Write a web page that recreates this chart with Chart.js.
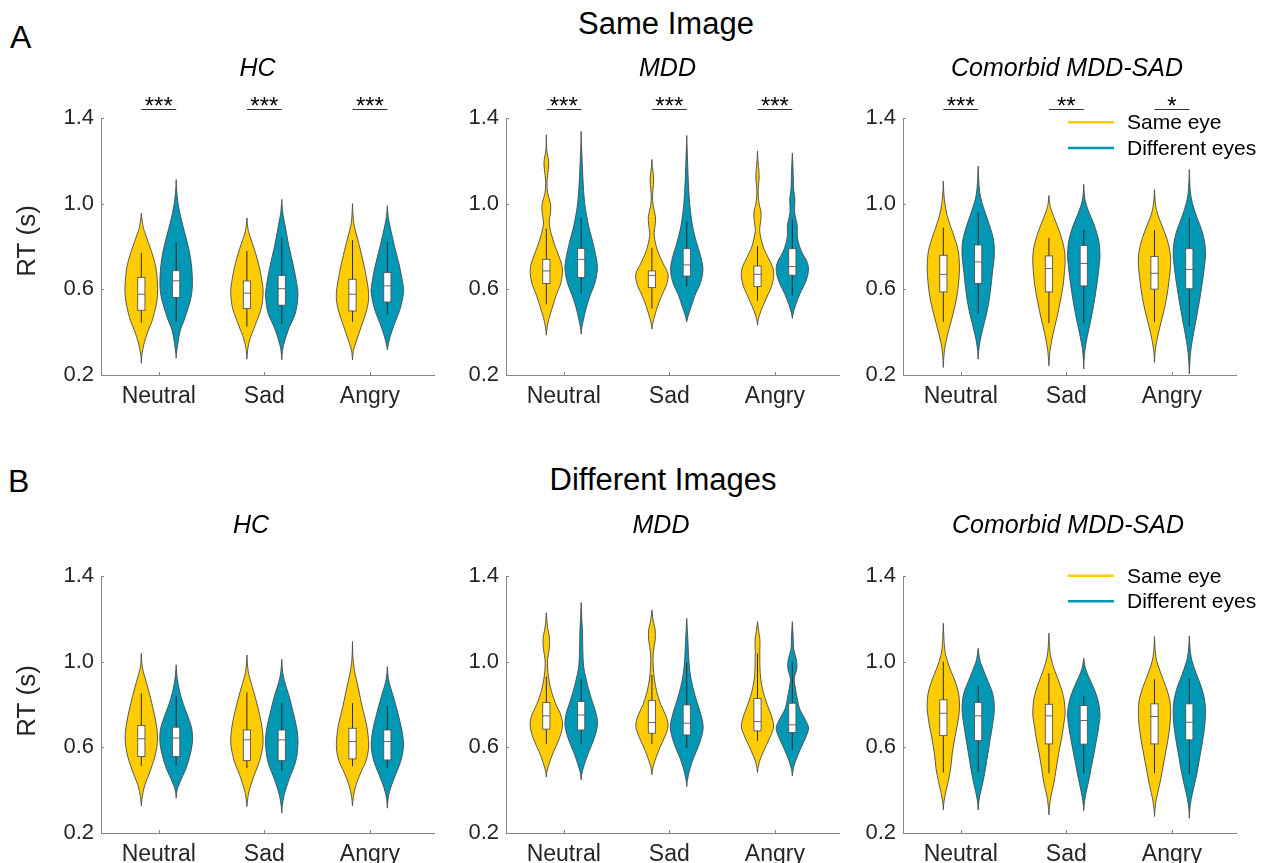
<!DOCTYPE html>
<html>
<head>
<meta charset="utf-8">
<script src="https://cdn.jsdelivr.net/npm/chart.js@4.4.1/dist/chart.umd.min.js"></script>
<style>
  html, body { margin: 0; padding: 0; background: #fff; overflow: hidden; }
  #page { position: relative; width: 1266px; height: 863px; overflow: hidden;
          font-family: "Liberation Sans", Arial, Helvetica, sans-serif; color: #000; }
  .lab { position: absolute; line-height: 1; white-space: nowrap; }
  .mid { transform: translateX(-50%); }
  canvas { position: absolute; }
</style>
</head>
<body>
<div id="page">
  <div class="lab" style="left:10px;top:21px;font-size:32px">A</div>
  <div class="lab" style="left:8px;top:465px;font-size:32px">B</div>
  <div class="lab mid" style="left:666px;top:8px;font-size:31px">Same Image</div>
  <div class="lab mid" style="left:663px;top:464px;font-size:31px">Different Images</div>
</div>
<script>
const categories = ['Neutral', 'Sad', 'Angry'];
const groupTitles = ['HC', 'MDD', 'Comorbid MDD-SAD'];
const seriesNames = ['Same eye', 'Different eyes'];
const yTickValues = [0.2, 0.6, 1.0, 1.4];
const starsSameImage = [['***', '***', '***'], ['***', '***', '***'], ['***', '**', '*']];

// box stats: [lower whisker, Q1, median, Q3, upper whisker] for Neutral, Sad, Angry
const boxA_HC_same = [[0.444, 0.502, 0.577, 0.656, 0.770], [0.426, 0.510, 0.582, 0.639, 0.779], [0.448, 0.499, 0.577, 0.647, 0.830]];
const boxA_HC_diff = [[0.449, 0.562, 0.640, 0.687, 0.820], [0.437, 0.526, 0.603, 0.665, 0.841], [0.484, 0.541, 0.616, 0.678, 0.822]];
const boxA_MDD_same = [[0.530, 0.627, 0.686, 0.740, 0.883], [0.510, 0.608, 0.665, 0.686, 0.794], [0.546, 0.613, 0.670, 0.709, 0.802]];
const boxA_MDD_diff = [[0.582, 0.655, 0.740, 0.791, 0.934], [0.613, 0.662, 0.714, 0.790, 0.918], [0.572, 0.666, 0.706, 0.790, 0.926]];
const boxA_COM_same = [[0.448, 0.588, 0.670, 0.759, 0.888], [0.442, 0.588, 0.697, 0.756, 0.841], [0.448, 0.601, 0.675, 0.753, 0.877]];
const boxA_COM_diff = [[0.487, 0.628, 0.728, 0.807, 0.960], [0.442, 0.616, 0.721, 0.805, 0.877], [0.426, 0.603, 0.693, 0.790, 0.934]];
const boxB_HC_same = [[0.514, 0.557, 0.640, 0.702, 0.853], [0.503, 0.538, 0.635, 0.681, 0.856], [0.511, 0.546, 0.627, 0.689, 0.806]];
const boxB_HC_diff = [[0.514, 0.557, 0.643, 0.694, 0.840], [0.492, 0.538, 0.635, 0.681, 0.809], [0.503, 0.541, 0.627, 0.681, 0.793]];
const boxB_MDD_same = [[0.616, 0.685, 0.747, 0.809, 0.930], [0.615, 0.666, 0.716, 0.818, 0.938], [0.630, 0.677, 0.720, 0.828, 1.039]];
const boxB_MDD_diff = [[0.616, 0.681, 0.751, 0.814, 0.918], [0.596, 0.658, 0.713, 0.798, 0.996], [0.588, 0.669, 0.705, 0.806, 1.000]];
const boxB_COM_same = [[0.482, 0.655, 0.759, 0.822, 1.000], [0.479, 0.616, 0.747, 0.801, 0.946], [0.479, 0.616, 0.744, 0.803, 0.918]];
const boxB_COM_diff = [[0.482, 0.632, 0.747, 0.809, 0.887], [0.479, 0.615, 0.725, 0.795, 0.840], [0.472, 0.635, 0.717, 0.803, 0.923]];

// violin outlines: [RT, relative density] from bottom tip to top tip
const kdeA_HC_same = [
  [[0.255, 0], [0.29, 0.03], [0.35, 0.18], [0.41, 0.44], [0.47, 0.74], [0.57, 1.0], [0.675, 0.95], [0.75, 0.74], [0.85, 0.29], [0.89, 0.12], [0.94, 0.02], [0.956, 0]],
  [[0.274, 0], [0.32, 0.05], [0.37, 0.2], [0.43, 0.5], [0.51, 0.88], [0.58, 1.0], [0.63, 0.95], [0.71, 0.75], [0.79, 0.45], [0.87, 0.1], [0.934, 0]],
  [[0.27, 0], [0.31, 0.05], [0.35, 0.2], [0.43, 0.56], [0.51, 0.9], [0.58, 1.0], [0.68, 0.8], [0.78, 0.5], [0.84, 0.3], [0.9, 0.1], [0.95, 0.03], [1.0, 0]]
];
const kdeA_HC_diff = [
  [[0.278, 0], [0.30, 0.02], [0.35, 0.11], [0.41, 0.26], [0.47, 0.56], [0.57, 0.94], [0.66, 1.0], [0.75, 0.88], [0.83, 0.65], [0.91, 0.37], [0.99, 0.14], [1.065, 0.03], [1.112, 0]],
  [[0.271, 0], [0.31, 0.04], [0.35, 0.15], [0.42, 0.45], [0.49, 0.85], [0.57, 1.0], [0.63, 0.92], [0.71, 0.72], [0.8, 0.45], [0.9, 0.2], [0.96, 0.06], [1.02, 0]],
  [[0.318, 0], [0.34, 0.05], [0.38, 0.18], [0.43, 0.4], [0.51, 0.8], [0.585, 1.0], [0.63, 0.95], [0.71, 0.75], [0.8, 0.45], [0.9, 0.15], [0.95, 0.04], [0.99, 0]]
];
const kdeA_MDD_same = [
  [[0.386, 0], [0.41, 0.03], [0.45, 0.12], [0.51, 0.35], [0.57, 0.6], [0.63, 0.9], [0.69, 1.0], [0.74, 0.85], [0.8, 0.55], [0.86, 0.3], [0.91, 0.18], [0.96, 0.26], [1.0, 0.26], [1.05, 0.08], [1.1, 0.04], [1.16, 0.12], [1.2, 0.14], [1.25, 0.03], [1.322, 0]],
  [[0.414, 0], [0.44, 0.05], [0.47, 0.15], [0.52, 0.35], [0.57, 0.6], [0.62, 0.9], [0.67, 1.0], [0.72, 0.7], [0.78, 0.35], [0.85, 0.14], [0.9, 0.2], [0.94, 0.22], [0.99, 0.08], [1.04, 0.04], [1.09, 0.1], [1.13, 0.1], [1.17, 0.03], [1.206, 0]],
  [[0.433, 0], [0.46, 0.05], [0.5, 0.22], [0.55, 0.5], [0.61, 0.85], [0.66, 1.0], [0.7, 0.95], [0.75, 0.65], [0.8, 0.35], [0.87, 0.14], [0.92, 0.2], [0.96, 0.22], [1.0, 0.1], [1.06, 0.04], [1.12, 0.1], [1.16, 0.08], [1.2, 0.03], [1.245, 0]]
];
const kdeA_MDD_diff = [
  [[0.391, 0], [0.42, 0.04], [0.45, 0.12], [0.51, 0.3], [0.57, 0.55], [0.63, 0.85], [0.69, 1.0], [0.74, 0.95], [0.82, 0.72], [0.9, 0.45], [1.0, 0.22], [1.1, 0.12], [1.2, 0.06], [1.27, 0.02], [1.338, 0]],
  [[0.448, 0], [0.48, 0.1], [0.52, 0.28], [0.57, 0.5], [0.63, 0.85], [0.69, 1.0], [0.75, 0.88], [0.82, 0.6], [0.9, 0.35], [1.0, 0.18], [1.1, 0.1], [1.2, 0.05], [1.318, 0]],
  [[0.464, 0], [0.49, 0.06], [0.53, 0.22], [0.58, 0.48], [0.64, 0.85], [0.69, 1.0], [0.73, 0.9], [0.78, 0.55], [0.84, 0.32], [0.9, 0.3], [0.96, 0.14], [1.02, 0.16], [1.07, 0.08], [1.15, 0.05], [1.237, 0]]
];
const kdeA_COM_same = [
  [[0.235, 0], [0.28, 0.03], [0.33, 0.1], [0.4, 0.3], [0.47, 0.55], [0.55, 0.8], [0.62, 0.93], [0.7, 1.0], [0.78, 0.92], [0.85, 0.65], [0.9, 0.42], [0.95, 0.22], [1.0, 0.1], [1.05, 0.03], [1.105, 0]],
  [[0.243, 0], [0.28, 0.03], [0.33, 0.1], [0.4, 0.28], [0.47, 0.5], [0.55, 0.72], [0.62, 0.88], [0.7, 0.98], [0.75, 1.0], [0.8, 0.92], [0.86, 0.7], [0.92, 0.4], [0.97, 0.15], [1.0, 0.05], [1.038, 0]],
  [[0.259, 0], [0.3, 0.03], [0.35, 0.12], [0.42, 0.32], [0.49, 0.55], [0.56, 0.75], [0.64, 0.9], [0.72, 1.0], [0.78, 0.95], [0.84, 0.75], [0.9, 0.45], [0.95, 0.2], [1.0, 0.06], [1.066, 0]]
];
const kdeA_COM_diff = [
  [[0.274, 0], [0.31, 0.03], [0.36, 0.12], [0.42, 0.3], [0.48, 0.5], [0.55, 0.68], [0.62, 0.8], [0.69, 0.9], [0.76, 1.0], [0.83, 0.95], [0.9, 0.7], [0.97, 0.38], [1.03, 0.15], [1.09, 0.05], [1.175, 0]],
  [[0.228, 0], [0.27, 0.02], [0.32, 0.08], [0.38, 0.22], [0.45, 0.42], [0.52, 0.6], [0.59, 0.75], [0.66, 0.88], [0.73, 0.98], [0.77, 1.0], [0.83, 0.92], [0.9, 0.65], [0.96, 0.32], [1.01, 0.1], [1.05, 0.03], [1.09, 0]],
  [[0.205, 0], [0.24, 0.02], [0.3, 0.07], [0.36, 0.18], [0.43, 0.35], [0.5, 0.52], [0.57, 0.68], [0.64, 0.82], [0.71, 0.94], [0.76, 1.0], [0.82, 0.95], [0.88, 0.75], [0.94, 0.45], [1.0, 0.2], [1.06, 0.06], [1.16, 0]]
];
const kdeB_HC_same = [
  [[0.327, 0], [0.37, 0.06], [0.42, 0.2], [0.48, 0.5], [0.56, 0.85], [0.635, 1.0], [0.71, 0.92], [0.79, 0.7], [0.88, 0.4], [0.96, 0.1], [1.0, 0.03], [1.039, 0]],
  [[0.324, 0], [0.36, 0.05], [0.4, 0.15], [0.47, 0.45], [0.54, 0.8], [0.62, 1.0], [0.7, 0.92], [0.78, 0.7], [0.86, 0.42], [0.93, 0.15], [0.98, 0.04], [1.031, 0]],
  [[0.327, 0], [0.37, 0.06], [0.42, 0.2], [0.48, 0.5], [0.54, 0.85], [0.61, 1.0], [0.7, 0.88], [0.79, 0.6], [0.88, 0.35], [0.96, 0.12], [1.02, 0.03], [1.094, 0]]
];
const kdeB_HC_diff = [
  [[0.363, 0], [0.4, 0.06], [0.44, 0.25], [0.5, 0.6], [0.56, 0.85], [0.62, 1.0], [0.68, 0.98], [0.74, 0.75], [0.8, 0.45], [0.86, 0.22], [0.92, 0.07], [0.985, 0]],
  [[0.293, 0], [0.33, 0.04], [0.38, 0.16], [0.45, 0.45], [0.53, 0.85], [0.61, 1.0], [0.68, 0.95], [0.76, 0.72], [0.84, 0.45], [0.9, 0.2], [0.95, 0.06], [1.011, 0]],
  [[0.316, 0], [0.36, 0.05], [0.41, 0.2], [0.47, 0.5], [0.54, 0.85], [0.61, 1.0], [0.68, 0.9], [0.76, 0.65], [0.83, 0.4], [0.89, 0.16], [0.93, 0.05], [0.977, 0]]
];
const kdeB_MDD_same = [
  [[0.461, 0], [0.49, 0.05], [0.53, 0.2], [0.58, 0.45], [0.64, 0.8], [0.7, 1.0], [0.75, 0.9], [0.8, 0.6], [0.86, 0.32], [0.92, 0.15], [0.97, 0.08], [1.01, 0.08], [1.06, 0.18], [1.11, 0.2], [1.16, 0.08], [1.229, 0]],
  [[0.472, 0], [0.5, 0.05], [0.54, 0.2], [0.6, 0.5], [0.65, 0.8], [0.7, 1.0], [0.75, 0.85], [0.8, 0.55], [0.86, 0.3], [0.92, 0.15], [0.98, 0.08], [1.04, 0.08], [1.1, 0.2], [1.15, 0.2], [1.19, 0.08], [1.241, 0]],
  [[0.482, 0], [0.51, 0.05], [0.55, 0.2], [0.61, 0.55], [0.66, 0.85], [0.7, 1.0], [0.75, 0.85], [0.8, 0.6], [0.86, 0.35], [0.92, 0.2], [0.98, 0.15], [1.04, 0.14], [1.1, 0.15], [1.14, 0.08], [1.187, 0]]
];
const kdeB_MDD_diff = [
  [[0.448, 0], [0.48, 0.05], [0.52, 0.2], [0.58, 0.48], [0.64, 0.8], [0.7, 1.0], [0.75, 0.95], [0.8, 0.75], [0.86, 0.5], [0.92, 0.3], [0.98, 0.15], [1.06, 0.1], [1.14, 0.08], [1.2, 0.04], [1.276, 0]],
  [[0.417, 0], [0.45, 0.05], [0.5, 0.2], [0.55, 0.42], [0.61, 0.75], [0.67, 0.98], [0.71, 1.0], [0.76, 0.85], [0.82, 0.6], [0.88, 0.38], [0.95, 0.2], [1.02, 0.12], [1.1, 0.07], [1.202, 0]],
  [[0.467, 0], [0.5, 0.06], [0.54, 0.22], [0.6, 0.55], [0.65, 0.85], [0.69, 1.0], [0.73, 0.8], [0.78, 0.45], [0.83, 0.3], [0.88, 0.18], [0.92, 0.12], [0.97, 0.28], [1.01, 0.25], [1.06, 0.08], [1.12, 0.05], [1.187, 0]]
];
const kdeB_COM_same = [
  [[0.308, 0], [0.34, 0.03], [0.38, 0.12], [0.44, 0.3], [0.5, 0.45], [0.57, 0.55], [0.64, 0.7], [0.71, 0.88], [0.78, 1.0], [0.85, 0.95], [0.91, 0.72], [0.97, 0.4], [1.03, 0.15], [1.09, 0.05], [1.179, 0]],
  [[0.285, 0], [0.32, 0.03], [0.37, 0.12], [0.43, 0.3], [0.5, 0.45], [0.57, 0.6], [0.64, 0.78], [0.71, 0.92], [0.76, 1.0], [0.83, 0.92], [0.9, 0.65], [0.96, 0.35], [1.02, 0.12], [1.07, 0.04], [1.133, 0]],
  [[0.277, 0], [0.31, 0.03], [0.36, 0.12], [0.42, 0.3], [0.49, 0.48], [0.56, 0.65], [0.63, 0.82], [0.7, 0.95], [0.76, 1.0], [0.82, 0.95], [0.88, 0.72], [0.94, 0.42], [1.0, 0.15], [1.05, 0.05], [1.117, 0]]
];
const kdeB_COM_diff = [
  [[0.308, 0], [0.34, 0.03], [0.38, 0.12], [0.44, 0.3], [0.5, 0.45], [0.57, 0.6], [0.64, 0.75], [0.71, 0.9], [0.78, 1.0], [0.85, 0.9], [0.91, 0.6], [0.97, 0.28], [1.01, 0.1], [1.062, 0]],
  [[0.305, 0], [0.34, 0.04], [0.39, 0.15], [0.45, 0.32], [0.52, 0.5], [0.59, 0.68], [0.66, 0.85], [0.72, 0.97], [0.76, 1.0], [0.82, 0.88], [0.88, 0.6], [0.93, 0.3], [0.97, 0.1], [1.016, 0]],
  [[0.269, 0], [0.31, 0.03], [0.36, 0.12], [0.42, 0.3], [0.49, 0.5], [0.56, 0.66], [0.63, 0.82], [0.7, 0.95], [0.76, 1.0], [0.82, 0.95], [0.88, 0.75], [0.94, 0.45], [1.0, 0.18], [1.05, 0.06], [1.12, 0]]
];

// styles / layout
const FONT = '"Liberation Sans", Arial, Helvetica, sans-serif';
const TEXT = '#262626';
const AXIS = '#858585';
const OUTLINE = '#4a4a4a';
const seriesColors = ['#FFCC00', '#0098B5'];
const seriesOffsets = [-0.165, 0.165];
const VIOLIN_HALF = 0.153;   // in x units
const BOX_HALF = 3.6;        // px
const plotLefts = [101, 506, 903];
const plotTops = [118, 576];
const PLOT_W = 333, PLOT_H = 257;
const PAD_L = 100, PAD_T = 110, PAD_R = 30, PAD_B = 45;
const titleCenters = [[257.5, 667.5, 1067], [251, 661, 1068]];
const titleBaselines = [76, 533];
const yTitleCenters = [241, 701];
const legendDy = [4.3, -0.3];

Chart.defaults.font.family = FONT;

const panels = [
  { row: 0, col: 0, box: [boxA_HC_same, boxA_HC_diff], kde: [kdeA_HC_same, kdeA_HC_diff] },
  { row: 0, col: 1, box: [boxA_MDD_same, boxA_MDD_diff], kde: [kdeA_MDD_same, kdeA_MDD_diff] },
  { row: 0, col: 2, box: [boxA_COM_same, boxA_COM_diff], kde: [kdeA_COM_same, kdeA_COM_diff] },
  { row: 1, col: 0, box: [boxB_HC_same, boxB_HC_diff], kde: [kdeB_HC_same, kdeB_HC_diff] },
  { row: 1, col: 1, box: [boxB_MDD_same, boxB_MDD_diff], kde: [kdeB_MDD_same, kdeB_MDD_diff] },
  { row: 1, col: 2, box: [boxB_COM_same, boxB_COM_diff], kde: [kdeB_COM_same, kdeB_COM_diff] }
];

// catmull-rom through pixel points
function traceSmooth(ctx, pts) {
  for (let i = 0; i < pts.length - 1; i++) {
    const p0 = pts[i - 1] || pts[i], p1 = pts[i], p2 = pts[i + 1], p3 = pts[i + 2] || p2;
    ctx.bezierCurveTo(
      p1[0] + (p2[0] - p0[0]) / 6, p1[1] + (p2[1] - p0[1]) / 6,
      p2[0] - (p3[0] - p1[0]) / 6, p2[1] - (p3[1] - p1[1]) / 6,
      p2[0], p2[1]);
  }
}

function makePanelPlugin(p, canvasLeft, canvasTop) {
  return {
    id: 'violinPanel',
    afterDatasetsDraw(chart) {
      const { ctx, scales: { x, y } } = chart;
      const halfPx = x.getPixelForValue(VIOLIN_HALF) - x.getPixelForValue(0);
      ctx.save();
      chart.data.datasets.forEach(ds => {
        ds.data.forEach(d => {
          const cx = x.getPixelForValue(d.x);
          const right = d.kde.map(([v, w]) => [cx + w * halfPx, y.getPixelForValue(v)]);
          const left = d.kde.map(([v, w]) => [cx - w * halfPx, y.getPixelForValue(v)]).reverse();
          ctx.beginPath();
          ctx.moveTo(right[0][0], right[0][1]);
          traceSmooth(ctx, right);
          traceSmooth(ctx, left);
          ctx.closePath();
          ctx.fillStyle = ds.backgroundColor;
          ctx.fill();
          ctx.lineWidth = 0.9;
          ctx.strokeStyle = OUTLINE;
          ctx.stroke();

          const [lo, q1, med, q3, hi] = d.stats;
          ctx.beginPath();
          ctx.moveTo(cx, y.getPixelForValue(lo));
          ctx.lineTo(cx, y.getPixelForValue(hi));
          ctx.lineWidth = 1;
          ctx.strokeStyle = '#2b2b2b';
          ctx.stroke();

          const top = y.getPixelForValue(q3), bot = y.getPixelForValue(q1);
          ctx.fillStyle = '#fff';
          ctx.fillRect(cx - BOX_HALF, top, BOX_HALF * 2, bot - top);
          ctx.lineWidth = 0.9;
          ctx.strokeStyle = '#555';
          ctx.strokeRect(cx - BOX_HALF, top, BOX_HALF * 2, bot - top);
          const my = y.getPixelForValue(med);
          ctx.beginPath();
          ctx.moveTo(cx - BOX_HALF, my);
          ctx.lineTo(cx + BOX_HALF, my);
          ctx.stroke();
        });
      });
      ctx.restore();
    },
    afterDraw(chart) {
      const { ctx, chartArea, scales: { x, y } } = chart;
      ctx.save();
      // inward tick marks
      ctx.strokeStyle = AXIS;
      ctx.lineWidth = 1;
      ctx.beginPath();
      yTickValues.forEach(v => {
        const py = Math.round(y.getPixelForValue(v)) + 0.5;
        ctx.moveTo(chartArea.left, py);
        ctx.lineTo(chartArea.left + 3, py);
      });
      categories.forEach((c, i) => {
        const px = Math.round(x.getPixelForValue(i + 1)) + 0.5;
        ctx.moveTo(px, chartArea.bottom);
        ctx.lineTo(px, chartArea.bottom - 3);
      });
      ctx.stroke();

      // panel title
      ctx.fillStyle = '#000';
      ctx.font = 'italic 25px ' + FONT;
      ctx.textAlign = 'center';
      ctx.textBaseline = 'alphabetic';
      ctx.fillText(groupTitles[p.col], titleCenters[p.row][p.col] - canvasLeft, titleBaselines[p.row] - canvasTop);

      // y axis title, first column only
      if (p.col === 0) {
        ctx.save();
        ctx.translate(28 - canvasLeft, yTitleCenters[p.row] - canvasTop);
        ctx.rotate(-Math.PI / 2);
        ctx.font = '26px ' + FONT;
        ctx.fillStyle = TEXT;
        ctx.textBaseline = 'middle';
        ctx.fillText('RT (s)', 0, 0);
        ctx.restore();
      }

      // significance brackets (same image only)
      if (p.row === 0) {
        const ly = Math.round(chartArea.top - 9.3) + 0.5;
        ctx.font = '24px ' + FONT;
        categories.forEach((c, i) => {
          ctx.beginPath();
          ctx.moveTo(x.getPixelForValue(i + 1 + seriesOffsets[0]), ly);
          ctx.lineTo(x.getPixelForValue(i + 1 + seriesOffsets[1]), ly);
          ctx.strokeStyle = '#333';
          ctx.lineWidth = 1;
          ctx.stroke();
          ctx.fillText(starsSameImage[p.col][i], x.getPixelForValue(i + 1), ly + 4.5);
        });
      }

      // legend
      if (p.col === 2) {
        ctx.font = '21px ' + FONT;
        ctx.textAlign = 'left';
        seriesNames.forEach((name, s) => {
          const ly = chartArea.top + legendDy[p.row] + s * 25.6;
          ctx.beginPath();
          ctx.moveTo(chartArea.left + 165, ly);
          ctx.lineTo(chartArea.left + 211, ly);
          ctx.strokeStyle = seriesColors[s];
          ctx.lineWidth = 2.5;
          ctx.stroke();
          ctx.fillStyle = '#000';
          ctx.fillText(name, chartArea.left + 224, ly + 7);
        });
      }
      ctx.restore();
    }
  };
}

const page = document.getElementById('page');
panels.forEach(p => {
  const canvasLeft = plotLefts[p.col] - PAD_L;
  const canvasTop = plotTops[p.row] - PAD_T;
  const canvas = document.createElement('canvas');
  canvas.width = PAD_L + PLOT_W + PAD_R;
  canvas.height = PAD_T + PLOT_H + PAD_B;
  canvas.style.left = canvasLeft + 'px';
  canvas.style.top = canvasTop + 'px';
  page.appendChild(canvas);

  new Chart(canvas, {
    type: 'scatter',
    data: {
      datasets: seriesNames.map((name, s) => ({
        label: name,
        data: categories.map((c, i) => ({
          x: i + 1 + seriesOffsets[s],
          y: p.box[s][i][2],
          stats: p.box[s][i],
          kde: p.kde[s][i]
        })),
        backgroundColor: seriesColors[s],
        borderColor: OUTLINE,
        pointRadius: 0,
        pointHoverRadius: 0
      }))
    },
    options: {
      responsive: false,
      animation: false,
      events: [],
      layout: { padding: { top: PAD_T, right: PAD_R, left: 0, bottom: 0 } },
      plugins: {
        legend: { display: false },
        tooltip: { enabled: false },
        title: { display: false }
      },
      scales: {
        x: {
          type: 'linear',
          min: 0.453,
          max: 3.607,
          grid: { display: false, drawTicks: false },
          border: { display: true, color: AXIS, width: 1 },
          afterBuildTicks: scale => { scale.ticks = categories.map((c, i) => ({ value: i + 1 })); },
          afterFit: scale => { scale.height = PAD_B; },
          ticks: {
            callback: v => categories[Math.round(v) - 1],
            font: { size: 23 },
            color: TEXT,
            padding: 8,
            maxRotation: 0,
            autoSkip: false
          }
        },
        y: {
          min: 0.2,
          max: 1.4,
          grid: { display: false, drawTicks: false },
          border: { display: true, color: AXIS, width: 1 },
          afterBuildTicks: scale => { scale.ticks = yTickValues.map(v => ({ value: v })); },
          afterFit: scale => { scale.width = PAD_L; },
          ticks: {
            callback: v => v.toFixed(1),
            font: { size: 22 },
            color: TEXT,
            padding: 7
          }
        }
      }
    },
    plugins: [makePanelPlugin(p, canvasLeft, canvasTop)]
  });
});
</script>
</body>
</html>
